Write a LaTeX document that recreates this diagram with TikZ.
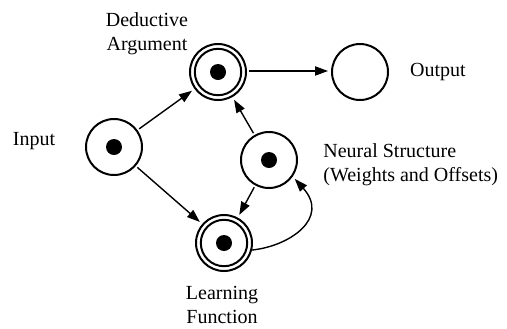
\documentclass[tikz,border=0pt]{standalone}
\usepackage{fontspec}
\setmainfont{Liberation Serif}
\usetikzlibrary{arrows.meta}
\begin{document}
\begin{tikzpicture}[x=0.5pt,y=-0.5pt,
  state/.style={circle,draw,line width=1pt,minimum size=28pt,inner sep=0pt,
    path picture={\fill (path picture bounding box.center) circle (4pt);}},
  final/.style={state,
    path picture={\fill (path picture bounding box.center) circle (4pt);
      \draw[line width=1pt] (path picture bounding box.center) circle (11.6pt);}},
  plain/.style={circle,draw,line width=1pt,minimum size=28pt,inner sep=0pt},
  lbl/.style={font=\fontsize{10}{12}\selectfont,inner sep=0pt,align=center},
  arr/.style={line width=0.7pt,-{Triangle[length=6.5pt,width=4.6pt]},shorten >=1.5pt,shorten <=1pt}]
\useasboundingbox (0,0) rectangle (507,328);
\node[final] (ded) at (218,72) {};
\node[plain] (out) at (360,72) {};
\node[state] (in) at (114,147) {};
\node[state] (neu) at (269,160) {};
\node[final] (lrn) at (224,243) {};
\node[lbl] (lded) at (147,33.5) {Deductive\\Argument};
\node[lbl,anchor=base] (lout) at (438,76) {Output};
\node[lbl,anchor=base] (lin) at (34,145) {Input};
\node[lbl,anchor=west,align=left] (lneu) at (323,165) {Neural Structure\\(Weights and Offsets)};
\node[lbl] (llrn) at (222,305) {Learning\\Function};
\draw[arr] (in) -- (ded);
\draw[arr] (in) -- (lrn);
\draw[arr] (neu) -- (ded);
\draw[arr] (neu) -- (lrn);
\draw[arr] (ded.2) -- (out.178);
\draw[arr,shorten <=0pt] (lrn.-14) .. controls (290,246) and (330,218) .. (neu.-35);
\end{tikzpicture}
\end{document}
